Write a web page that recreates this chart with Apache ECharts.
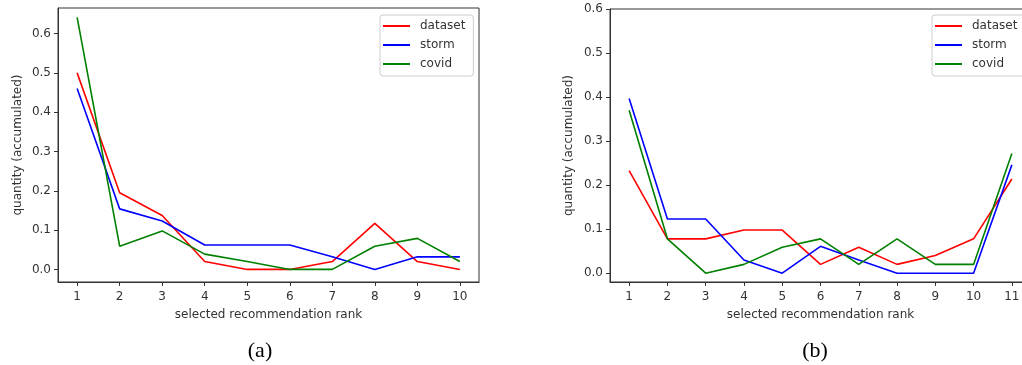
<!DOCTYPE html>
<html lang="en">
<head>
    <meta charset="UTF-8">
    <title>recommendation rank</title>
    <script src="https://cdn.jsdelivr.net/npm/echarts@6/dist/echarts.min.js"></script>
    <style>
        html, body { margin: 0; padding: 0; background: #fff; }
    </style>
</head>
<body>
    <div id="main" style="width: 1022px; height: 365px;"></div>
</body>
</html>

<script>
// tick labels
var ranksA = [1, 2, 3, 4, 5, 6, 7, 8, 9, 10];
var ranksB = [1, 2, 3, 4, 5, 6, 7, 8, 9, 10, 11];
var yTicks = [0, 0.1, 0.2, 0.3, 0.4, 0.5, 0.6];
var names = ['dataset', 'storm', 'covid'];

// (a)
var datasetA = [0.5, 0.195, 0.137, 0.02, 0, 0, 0.02, 0.117, 0.02, 0];
var stormA = [0.46, 0.154, 0.123, 0.062, 0.062, 0.062, 0.032, 0, 0.032, 0.032];
var covidA = [0.641, 0.059, 0.098, 0.039, 0.02, 0, 0, 0.059, 0.079, 0.02];

// (b)
var datasetB = [0.233, 0.078, 0.078, 0.098, 0.098, 0.02, 0.059, 0.02, 0.04, 0.078, 0.214];
var stormB = [0.397, 0.123, 0.123, 0.03, 0, 0.061, 0.03, 0, 0, 0, 0.246];
var covidB = [0.37, 0.078, 0, 0.02, 0.059, 0.078, 0.02, 0.078, 0.02, 0.02, 0.272];

var colors = ['#ff0000', '#0000ff', '#008000'];

var chart = echarts.init(document.getElementById('main'));

function pairs(xs, ys) {
    return ys.map(function (v, i) { return [xs[i], v]; });
}

var font = 'DejaVu Sans';
var txt = '#333';

function xAxisOf(idx, ticks, min, max) {
    return {
        gridIndex: idx,
        type: 'value',
        min: min, max: max,
        name: 'selected recommendation rank',
        nameLocation: 'middle',
        nameGap: 27,
        nameTextStyle: { fontFamily: font, fontSize: 12, color: txt },
        axisLine: { show: true, onZero: false, lineStyle: { color: txt, width: 1 } },
        axisTick: { show: true, length: 4, inside: false, customValues: ticks, lineStyle: { color: txt, width: 1 } },
        axisLabel: { customValues: ticks, margin: 9, fontFamily: font, fontSize: 12, color: txt },
        splitLine: { show: false }
    };
}

function yAxisOf(idx, min, max, gap) {
    return {
        gridIndex: idx,
        type: 'value',
        min: min, max: max,
        name: 'quantity (accumulated)',
        nameLocation: 'middle',
        nameGap: gap,
        nameTextStyle: { fontFamily: font, fontSize: 12, color: txt },
        axisLine: { show: true, onZero: false, lineStyle: { color: txt, width: 1 } },
        axisTick: { show: true, length: 4, customValues: yTicks, lineStyle: { color: txt, width: 1 } },
        axisLabel: {
            customValues: yTicks, margin: 7, fontFamily: font, fontSize: 12, color: txt,
            formatter: function (v) { return v.toFixed(1); }
        },
        splitLine: { show: false }
    };
}

function line(name, xi, data, c) {
    return {
        name: name,
        type: 'line',
        xAxisIndex: xi,
        yAxisIndex: xi,
        data: data,
        symbol: 'none',
        animation: false,
        lineStyle: { color: c, width: 1.6 },
        itemStyle: { color: c }
    };
}

function legendAt(left) {
    return {
        orient: 'vertical',
        left: left,
        top: 15,
        data: names,
        icon: 'rect',
        itemWidth: 27,
        itemHeight: 2,
        itemGap: 5,
        padding: [4, 8, 5, 3],
        borderColor: '#cccccc',
        borderWidth: 1,
        borderRadius: 3,
        backgroundColor: 'rgba(255,255,255,0.8)',
        textStyle: { fontFamily: font, fontSize: 12, color: txt, padding: [0, 0, 0, 5], lineHeight: 14 }
    };
}

var option = {
    animation: false,
    backgroundColor: '#fff',
    grid: [
        { left: 58, top: 8, width: 421, height: 274, show: true, borderColor: txt, borderWidth: 1, backgroundColor: 'transparent', outerBoundsMode: 'none' },
        { left: 610, top: 9, width: 421, height: 273, show: true, borderColor: txt, borderWidth: 1, backgroundColor: 'transparent', outerBoundsMode: 'none' }
    ],
    xAxis: [
        xAxisOf(0, ranksA, 0.55, 10.45),
        xAxisOf(1, ranksB, 0.5, 11.5)
    ],
    yAxis: [
        yAxisOf(0, -0.032, 0.665, 34),
        yAxisOf(1, -0.02, 0.6, 35)
    ],
    legend: [legendAt(380), legendAt(932)],
    series: [
        line('dataset', 0, pairs(ranksA, datasetA), colors[0]),
        line('storm', 0, pairs(ranksA, stormA), colors[1]),
        line('covid', 0, pairs(ranksA, covidA), colors[2]),
        line('dataset', 1, pairs(ranksB, datasetB), colors[0]),
        line('storm', 1, pairs(ranksB, stormB), colors[1]),
        line('covid', 1, pairs(ranksB, covidB), colors[2])
    ],
    graphic: [
        { type: 'text', x: 260, y: 351, style: { text: '(a)', font: '22px "Liberation Serif"', fill: '#000', textAlign: 'center', textVerticalAlign: 'middle' } },
        { type: 'text', x: 815, y: 351, style: { text: '(b)', font: '22px "Liberation Serif"', fill: '#000', textAlign: 'center', textVerticalAlign: 'middle' } }
    ]
};

chart.setOption(option);
</script>
